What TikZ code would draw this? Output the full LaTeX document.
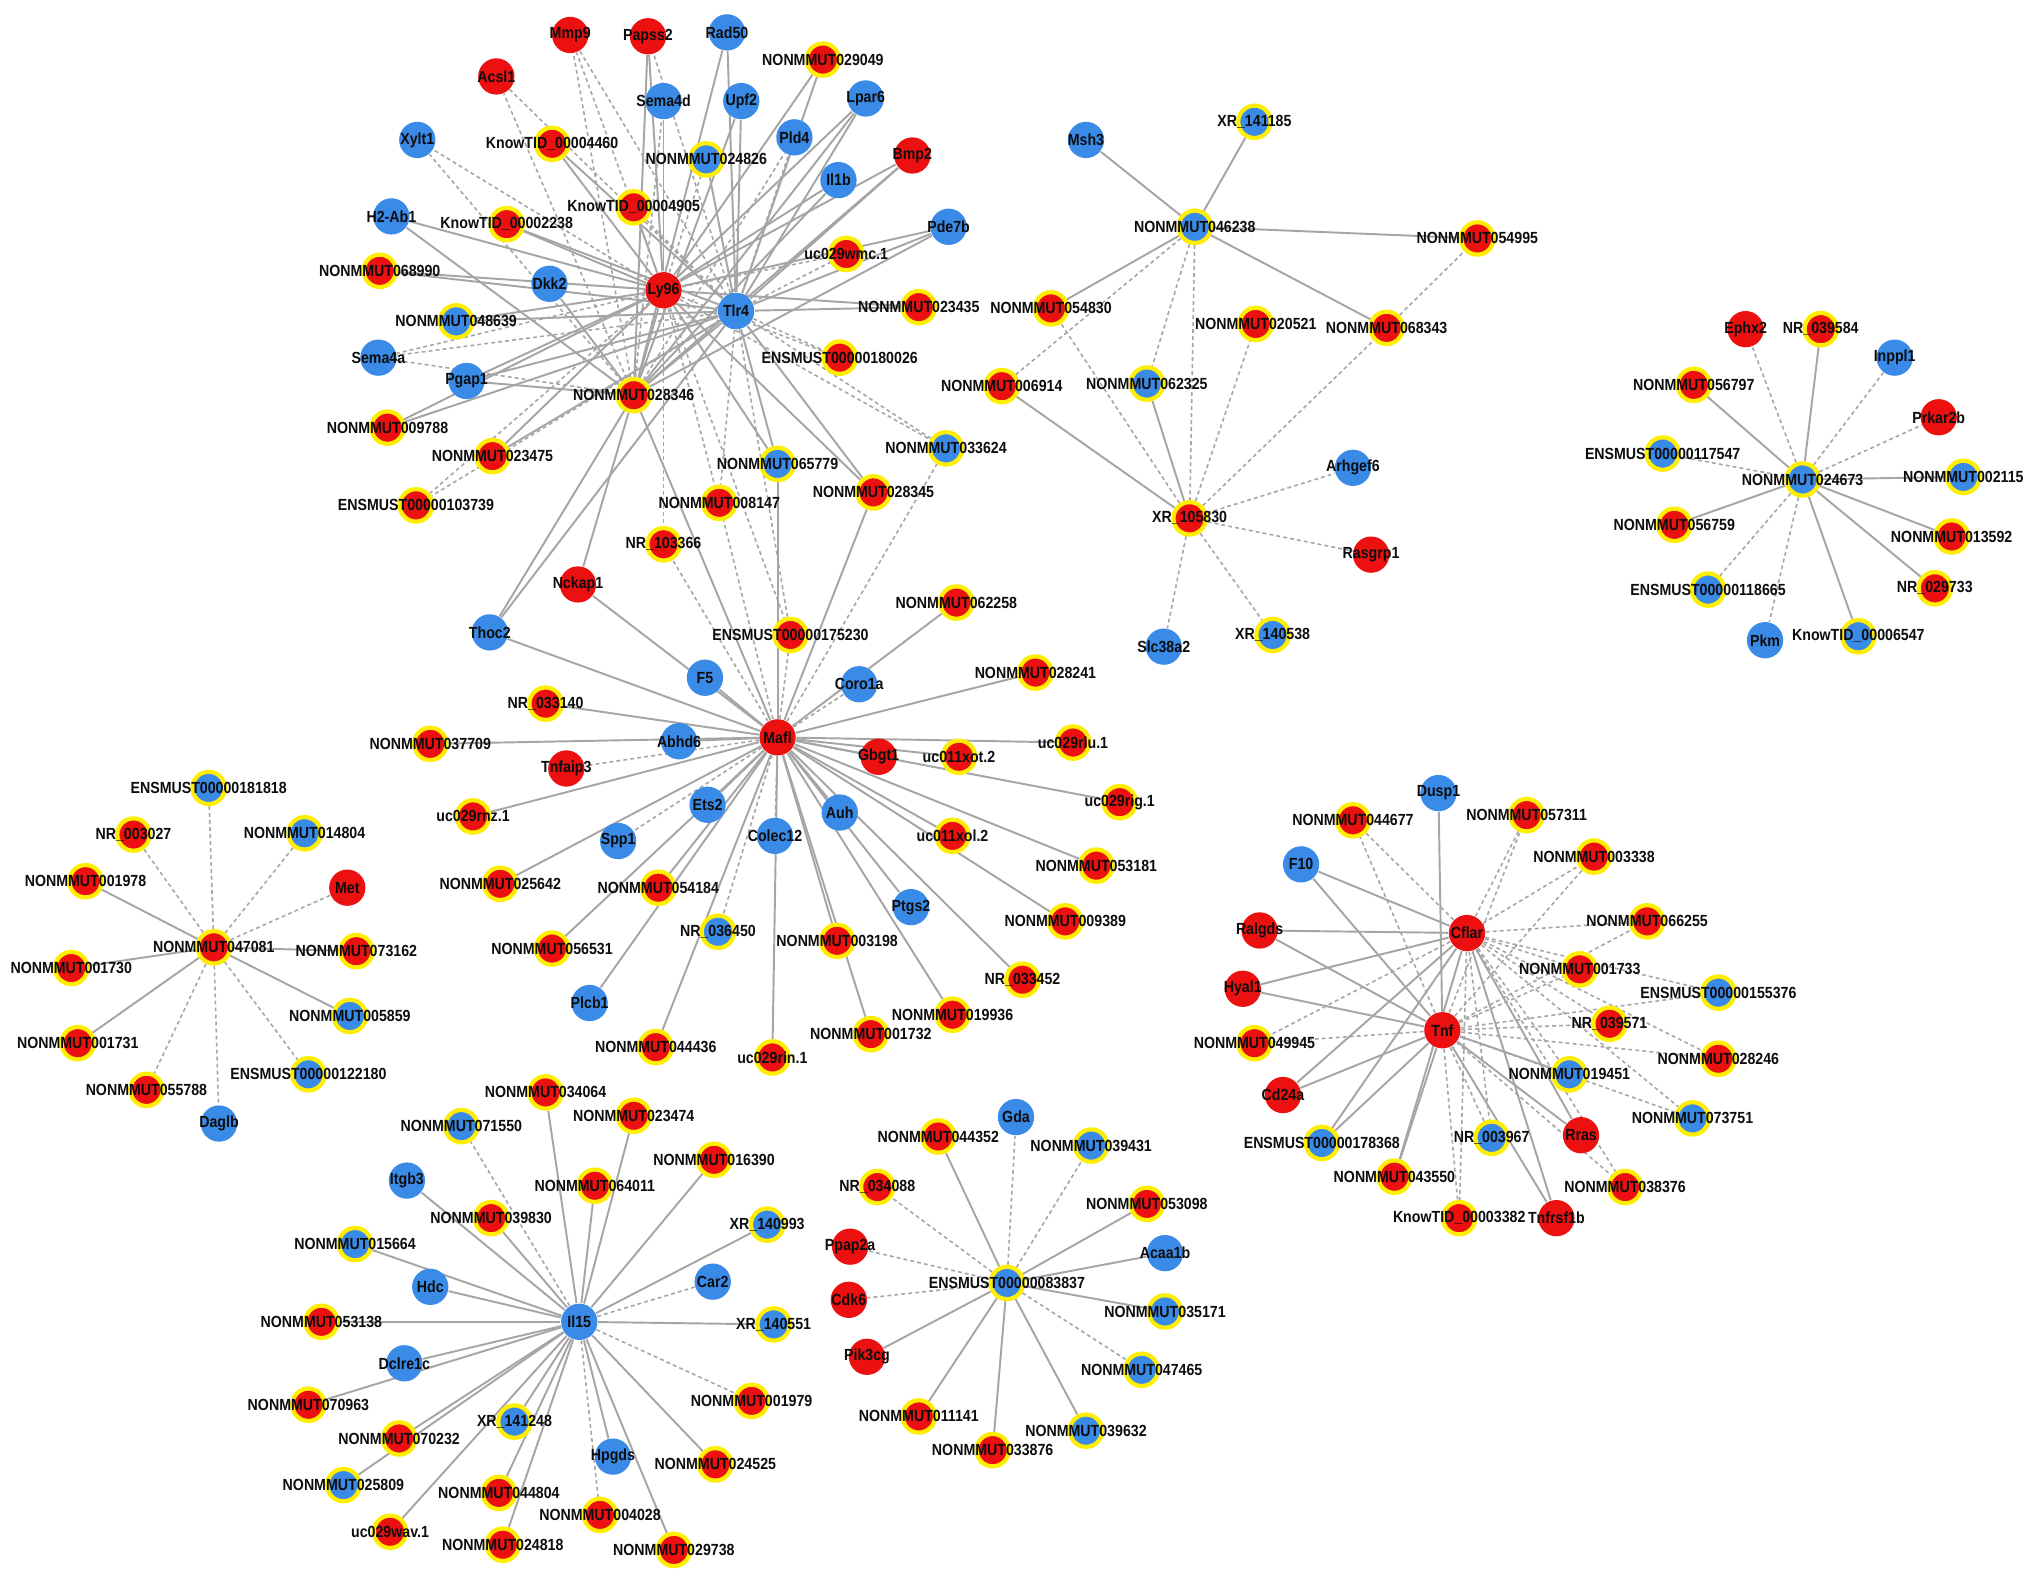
\documentclass[tikz,border=0pt]{standalone}
\usepackage{fontspec}
\newfontfamily\labfont[FakeStretch=0.88]{Liberation Sans}
\usepackage{tikz}
\definecolor{genered}{RGB}{236,16,16}
\definecolor{geneblue}{RGB}{58,138,232}
\definecolor{rimyellow}{RGB}{255,238,0}
\definecolor{linkgray}{RGB}{165,165,165}
\pgfdeclarelayer{links}
\pgfsetlayers{links,main}

\begin{document}
\begin{tikzpicture}[x=0.013cm,y=-0.013cm,
    lab/.style={font=\labfont\bfseries\fontsize{4.6}{5}\selectfont,text=black!95,inner sep=0pt},
    rn/.style={circle,fill=genered,minimum size=3.64mm,inner sep=0pt,label={[lab]center:#1}},
    bn/.style={circle,fill=geneblue,minimum size=3.64mm,inner sep=0pt,label={[lab]center:#1}},
    ry/.style={circle,fill=genered,draw=rimyellow,line width=1.2pt,minimum size=3.25mm,inner sep=0pt,label={[lab]center:#1}},
    by/.style={circle,fill=geneblue,draw=rimyellow,line width=1.2pt,minimum size=3.25mm,inner sep=0pt,label={[lab]center:#1}},
    pl/.style={draw=linkgray,line width=0.55pt},
    dl/.style={draw=linkgray,line width=0.45pt,dash pattern=on 1.1pt off 0.9pt}
]
\useasboundingbox (0,0) rectangle (1568,1222);

% Ly96 / Tlr4 module
\node[rn=Acsl1] (acsl1) at (383,59) {};
\node[rn=Mmp9] (mmp9) at (440,27) {};
\node[rn=Papss2] (papss2) at (500,28) {};
\node[bn=Rad50] (rad50) at (561,25) {};
\node[ry=NONMMUT029049] (n029049) at (635,46) {};
\node[bn=Sema4d] (sema4d) at (512,78) {};
\node[bn=Upf2] (upf2) at (572,78) {};
\node[bn=Lpar6] (lpar6) at (668,76) {};
\node[bn=Xylt1] (xylt1) at (322,108) {};
\node[ry=KnowTID\_00004460] (k4460) at (426,111) {};
\node[by=NONMMUT024826] (n024826) at (545,123) {};
\node[bn=Pld4] (pld4) at (613,106) {};
\node[rn=Bmp2] (bmp2) at (704,120) {};
\node[bn=Il1b] (il1b) at (647,139) {};
\node[bn=H2-Ab1] (h2ab1) at (302,167) {};
\node[ry=KnowTID\_00002238] (k2238) at (391,173) {};
\node[ry=KnowTID\_00004905] (k4905) at (489,160) {};
\node[bn=Pde7b] (pde7b) at (732,175) {};
\node[ry=uc029wmc.1] (ucwmc) at (653,196) {};
\node[ry=NONMMUT068990] (n068990) at (293,209) {};
\node[bn=Dkk2] (dkk2) at (424,219) {};
\node[rn=Ly96] (ly96) at (512,224) {};
\node[bn=Tlr4] (tlr4) at (568,240) {};
\node[ry=NONMMUT023435] (n023435) at (709,237) {};
\node[by=NONMMUT048639] (n048639) at (352,248) {};
\node[bn=Sema4a] (sema4a) at (292,276) {};
\node[ry=ENSMUST00000180026] (e180026) at (648,276) {};
\node[bn=Pgap1] (pgap1) at (360,294) {};
\node[ry=NONMMUT028346] (n028346) at (489,305) {};
\node[ry=NONMMUT009788] (n009788) at (299,330) {};
\node[ry=NONMMUT023475] (n023475) at (380,352) {};
\node[by=NONMMUT033624] (n033624) at (730,346) {};
\node[by=NONMMUT065779] (n065779) at (600,358) {};
\node[ry=NONMMUT028345] (n028345) at (674,380) {};
\node[ry=NONMMUT008147] (n008147) at (555,388) {};
\node[ry=ENSMUST00000103739] (e103739) at (321,390) {};
\node[ry=NR\_103366] (nr103366) at (512,420) {};

% Mafl module
\node[rn=Nckap1] (nckap1) at (446,451) {};
\node[bn=Thoc2] (thoc2) at (378,488) {};
\node[ry=ENSMUST00000175230] (e175230) at (610,490) {};
\node[ry=NONMMUT062258] (n062258) at (738,465) {};
\node[bn=F5] (f5) at (544,523) {};
\node[bn=Coro1a] (coro1a) at (663,528) {};
\node[ry=NONMMUT028241] (n028241) at (799,519) {};
\node[ry=NR\_033140] (nr033140) at (421,543) {};
\node[bn=Abhd6] (abhd6) at (524,572) {};
\node[rn=Mafl] (mafl) at (600,569) {};
\node[ry=NONMMUT037709] (n037709) at (332,574) {};
\node[rn=Tnfaip3] (tnfaip3) at (437,593) {};
\node[rn=Gbgt1] (gbgt1) at (678,584) {};
\node[ry=uc011xot.2] (ucxot) at (740,584) {};
\node[ry=uc029rlu.1] (ucrlu) at (828,573) {};
\node[ry=uc029rig.1] (ucrig) at (864,619) {};
\node[ry=uc029rnz.1] (ucrnz) at (365,630) {};
\node[bn=Ets2] (ets2) at (546,621) {};
\node[bn=Auh] (auh) at (648,627) {};
\node[bn=Spp1] (spp1) at (477,649) {};
\node[bn=Colec12] (colec12) at (598,645) {};
\node[ry=uc011xol.2] (ucxol) at (735,645) {};
\node[ry=NONMMUT053181] (n053181) at (846,668) {};
\node[ry=NONMMUT025642] (n025642) at (386,682) {};
\node[ry=NONMMUT054184] (n054184) at (508,685) {};
\node[bn=Ptgs2] (ptgs2) at (703,700) {};
\node[ry=NONMMUT009389] (n009389) at (822,711) {};
\node[by=NR\_036450] (nr036450) at (554,719) {};
\node[ry=NONMMUT003198] (n003198) at (646,726) {};
\node[ry=NONMMUT056531] (n056531) at (426,732) {};
\node[ry=NR\_033452] (nr033452) at (789,756) {};
\node[bn=Plcb1] (plcb1) at (455,774) {};
\node[ry=NONMMUT019936] (n019936) at (735,783) {};
\node[ry=NONMMUT044436] (n044436) at (506,808) {};
\node[ry=NONMMUT001732] (n001732) at (672,798) {};
\node[ry=uc029rin.1] (ucrin) at (596,816) {};

% NONMMUT046238 / XR_105830 module
\node[bn=Msh3] (msh3) at (838,108) {};
\node[by=XR\_141185] (xr141185) at (968,94) {};
\node[by=NONMMUT046238] (n046238) at (922,175) {};
\node[ry=NONMMUT054995] (n054995) at (1140,184) {};
\node[ry=NONMMUT054830] (n054830) at (811,238) {};
\node[ry=NONMMUT020521] (n020521) at (969,250) {};
\node[ry=NONMMUT068343] (n068343) at (1070,253) {};
\node[ry=NONMMUT006914] (n006914) at (773,298) {};
\node[by=NONMMUT062325] (n062325) at (885,296) {};
\node[bn=Arhgef6] (arhgef6) at (1044,361) {};
\node[ry=XR\_105830] (xr105830) at (918,400) {};
\node[rn=Rasgrp1] (rasgrp1) at (1058,428) {};
\node[bn=Slc38a2] (slc38a2) at (898,499) {};
\node[by=XR\_140538] (xr140538) at (982,490) {};

% NONMMUT024673 module
\node[rn=Ephx2] (ephx2) at (1347,254) {};
\node[ry=NR\_039584] (nr039584) at (1405,254) {};
\node[bn=Inppl1] (inppl1) at (1462,276) {};
\node[ry=NONMMUT056797] (n056797) at (1307,297) {};
\node[rn=Prkar2b] (prkar2b) at (1496,322) {};
\node[by=ENSMUST00000117547] (e117547) at (1283,350) {};
\node[by=NONMMUT024673] (n024673) at (1391,370) {};
\node[by=NONMMUT002115] (n002115) at (1515,368) {};
\node[ry=NONMMUT056759] (n056759) at (1292,405) {};
\node[ry=NONMMUT013592] (n013592) at (1506,414) {};
\node[by=ENSMUST00000118665] (e118665) at (1318,455) {};
\node[ry=NR\_029733] (nr029733) at (1493,454) {};
\node[bn=Pkm] (pkm) at (1362,494) {};
\node[by=KnowTID\_00006547] (k6547) at (1434,491) {};

% NONMMUT047081 module
\node[by=ENSMUST00000181818] (e181818) at (161,608) {};
\node[ry=NR\_003027] (nr003027) at (103,644) {};
\node[by=NONMMUT014804] (n014804) at (235,643) {};
\node[ry=NONMMUT001978] (n001978) at (66,680) {};
\node[rn=Met] (met) at (268,685) {};
\node[ry=NONMMUT047081] (n047081) at (165,731) {};
\node[ry=NONMMUT073162] (n073162) at (275,734) {};
\node[ry=NONMMUT001730] (n001730) at (55,747) {};
\node[by=NONMMUT005859] (n005859) at (270,784) {};
\node[ry=NONMMUT001731] (n001731) at (60,805) {};
\node[by=ENSMUST00000122180] (e122180) at (238,829) {};
\node[ry=NONMMUT055788] (n055788) at (113,841) {};
\node[bn=Daglb] (daglb) at (169,867) {};

% Cflar / Tnf module
\node[bn=Dusp1] (dusp1) at (1110,612) {};
\node[ry=NONMMUT044677] (n044677) at (1044,633) {};
\node[ry=NONMMUT057311] (n057311) at (1178,629) {};
\node[bn=F10] (f10) at (1004,667) {};
\node[ry=NONMMUT003338] (n003338) at (1230,661) {};
\node[ry=NONMMUT066255] (n066255) at (1271,711) {};
\node[rn=Ralgds] (ralgds) at (972,718) {};
\node[rn=Cflar] (cflar) at (1132,720) {};
\node[ry=NONMMUT001733] (n001733) at (1219,748) {};
\node[rn=Hyal1] (hyal1) at (959,763) {};
\node[by=ENSMUST00000155376] (e155376) at (1326,766) {};
\node[ry=NR\_039571] (nr039571) at (1242,790) {};
\node[rn=Tnf] (tnf) at (1113,795) {};
\node[ry=NONMMUT049945] (n049945) at (968,805) {};
\node[ry=NONMMUT028246] (n028246) at (1326,817) {};
\node[by=NONMMUT019451] (n019451) at (1211,829) {};
\node[rn=Cd24a] (cd24a) at (990,845) {};
\node[by=NONMMUT073751] (n073751) at (1306,863) {};
\node[by=ENSMUST00000178368] (e178368) at (1020,882) {};
\node[by=NR\_003967] (nr003967) at (1151,878) {};
\node[rn=Rras] (rras) at (1220,876) {};
\node[ry=NONMMUT043550] (n043550) at (1076,908) {};
\node[ry=NONMMUT038376] (n038376) at (1254,916) {};
\node[ry=KnowTID\_00003382] (k3382) at (1126,940) {};
\node[rn=Tnfrsf1b] (tnfrsf1b) at (1201,940) {};

% Il15 module
\node[bn=Il15] (il15) at (447,1020) {};
\node[ry=NONMMUT034064] (n034064) at (421,843) {};
\node[ry=NONMMUT023474] (n023474) at (489,861) {};
\node[by=NONMMUT071550] (n071550) at (356,869) {};
\node[ry=NONMMUT016390] (n016390) at (551,895) {};
\node[bn=Itgb3] (itgb3) at (314,911) {};
\node[ry=NONMMUT064011] (n064011) at (459,915) {};
\node[ry=NONMMUT039830] (n039830) at (379,940) {};
\node[by=XR\_140993] (xr140993) at (592,945) {};
\node[by=NONMMUT015664] (n015664) at (274,960) {};
\node[bn=Hdc] (hdc) at (332,993) {};
\node[bn=Car2] (car2) at (550,989) {};
\node[ry=NONMMUT053138] (n053138) at (248,1020) {};
\node[by=XR\_140551] (xr140551) at (597,1022) {};
\node[bn=Dclre1c] (dclre1c) at (312,1052) {};
\node[ry=NONMMUT001979] (n001979) at (580,1081) {};
\node[ry=NONMMUT070963] (n070963) at (238,1084) {};
\node[by=XR\_141248] (xr141248) at (397,1097) {};
\node[ry=NONMMUT070232] (n070232) at (308,1110) {};
\node[bn=Hpgds] (hpgds) at (473,1124) {};
\node[ry=NONMMUT024525] (n024525) at (552,1130) {};
\node[by=NONMMUT025809] (n025809) at (265,1146) {};
\node[ry=NONMMUT044804] (n044804) at (385,1152) {};
\node[ry=NONMMUT004028] (n004028) at (463,1169) {};
\node[ry=uc029wav.1] (ucwav) at (301,1182) {};
\node[ry=NONMMUT024818] (n024818) at (388,1192) {};
\node[ry=NONMMUT029738] (n029738) at (520,1196) {};

% ENSMUST00000083837 module
\node[by=ENSMUST00000083837] (e083837) at (777,990) {};
\node[bn=Gda] (gda) at (784,862) {};
\node[ry=NONMMUT044352] (n044352) at (724,877) {};
\node[by=NONMMUT039431] (n039431) at (842,884) {};
\node[ry=NR\_034088] (nr034088) at (677,916) {};
\node[ry=NONMMUT053098] (n053098) at (885,929) {};
\node[rn=Ppap2a] (ppap2a) at (656,962) {};
\node[bn=Acaa1b] (acaa1b) at (899,967) {};
\node[rn=Cdk6] (cdk6) at (655,1003) {};
\node[by=NONMMUT035171] (n035171) at (899,1012) {};
\node[rn=Pik3cg] (pik3cg) at (669,1047) {};
\node[by=NONMMUT047465] (n047465) at (881,1057) {};
\node[ry=NONMMUT011141] (n011141) at (709,1093) {};
\node[by=NONMMUT039632] (n039632) at (838,1104) {};
\node[ry=NONMMUT033876] (n033876) at (766,1119) {};

\begin{pgfonlayer}{links}
\fill[white] (0,0) rectangle (1568,1222);
% Ly96 / Tlr4 links
\foreach \n in {papss2,n029049,sema4d,lpar6,k4460,bmp2,il1b,h2ab1,k2238,k4905,pde7b,n068990,n023435,n048639,pgap1,n028346,n009788,n023475,n065779,n028345}
  \draw[pl] (ly96) -- (\n);
\foreach \n in {mmp9,xylt1,n024826,ucwmc,sema4a,e180026,n033624,n008147,e103739,nr103366,e175230}
  \draw[dl] (ly96) -- (\n);
\foreach \n in {rad50,n029049,upf2,lpar6,k4460,n024826,bmp2,k2238,pde7b,n068990,n023435,n048639,pgap1,n028346,n009788,n023475,n065779,n028345,thoc2}
  \draw[pl] (tlr4) -- (\n);
\foreach \n in {acsl1,mmp9,papss2,pld4,k4905,ucwmc,sema4a,e180026,n033624,n008147,e103739,e175230}
  \draw[dl] (tlr4) -- (\n);
\foreach \n in {papss2,rad50,upf2,lpar6,bmp2,il1b,h2ab1,dkk2,pde7b,pgap1,nckap1,thoc2}
  \draw[pl] (n028346) -- (\n);
\foreach \n in {acsl1,mmp9,sema4d,xylt1,pld4,sema4a}
  \draw[dl] (n028346) -- (\n);
% Mafl links
\foreach \n in {n065779,n028345,n028346,nckap1,thoc2,n062258,f5,n028241,nr033140,abhd6,n037709,gbgt1,ucxot,ucrlu,ucrig,ucrnz,ets2,auh,ucxol,n053181,n025642,n054184,ptgs2,n009389,n003198,n056531,nr033452,plcb1,n019936,n044436,n001732,ucrin}
  \draw[pl] (mafl) -- (\n);
\foreach \n in {n008147,n033624,nr103366,e175230,coro1a,tnfaip3,spp1,colec12,nr036450}
  \draw[dl] (mafl) -- (\n);
% NONMMUT046238 / XR_105830 links
\foreach \n in {msh3,xr141185,n054995,n054830,n068343}
  \draw[pl] (n046238) -- (\n);
\foreach \n in {n006914,n062325,xr105830}
  \draw[dl] (n046238) -- (\n);
\foreach \n in {n006914,n062325}
  \draw[pl] (xr105830) -- (\n);
\foreach \n in {n054830,n020521,n068343,arhgef6,rasgrp1,slc38a2,xr140538}
  \draw[dl] (xr105830) -- (\n);
\draw[dl] (n068343) -- (n054995);
% NONMMUT024673 links
\foreach \n in {nr039584,n056797,n002115,n056759,n013592,nr029733,k6547}
  \draw[pl] (n024673) -- (\n);
\foreach \n in {ephx2,inppl1,prkar2b,e117547,e118665,pkm}
  \draw[dl] (n024673) -- (\n);
% NONMMUT047081 links
\foreach \n in {n001978,n073162,n001730,n005859,n001731}
  \draw[pl] (n047081) -- (\n);
\foreach \n in {e181818,nr003027,n014804,met,e122180,n055788,daglb}
  \draw[dl] (n047081) -- (\n);
% Cflar / Tnf links
\foreach \n in {f10,ralgds,hyal1,cd24a,e178368,n043550,rras,tnfrsf1b}
  \draw[pl] (cflar) -- (\n);
\foreach \n in {n044677,n057311,n003338,n066255,n001733,e155376,nr039571,n049945,n028246,n019451,n073751,nr003967,k3382,n038376}
  \draw[dl] (cflar) -- (\n);
\foreach \n in {dusp1,f10,ralgds,hyal1,cd24a,e178368,n019451,n043550,rras,tnfrsf1b}
  \draw[pl] (tnf) -- (\n);
\foreach \n in {n044677,n057311,n003338,n066255,n001733,e155376,nr039571,n049945,n028246,n073751,nr003967,k3382,n038376}
  \draw[dl] (tnf) -- (\n);
% Il15 links
\foreach \n in {n034064,n023474,n016390,itgb3,n064011,n039830,xr140993,n015664,hdc,n053138,xr140551,dclre1c,n070963,xr141248,n070232,hpgds,n024525,n025809,n044804,ucwav,n024818,n029738}
  \draw[pl] (il15) -- (\n);
\foreach \n in {n071550,car2,n001979,n004028}
  \draw[dl] (il15) -- (\n);
% ENSMUST00000083837 links
\foreach \n in {n044352,n053098,acaa1b,n035171,pik3cg,n011141,n039632,n033876}
  \draw[pl] (e083837) -- (\n);
\foreach \n in {gda,n039431,nr034088,ppap2a,cdk6,n047465}
  \draw[dl] (e083837) -- (\n);
\end{pgfonlayer}
\end{tikzpicture}
\end{document}
